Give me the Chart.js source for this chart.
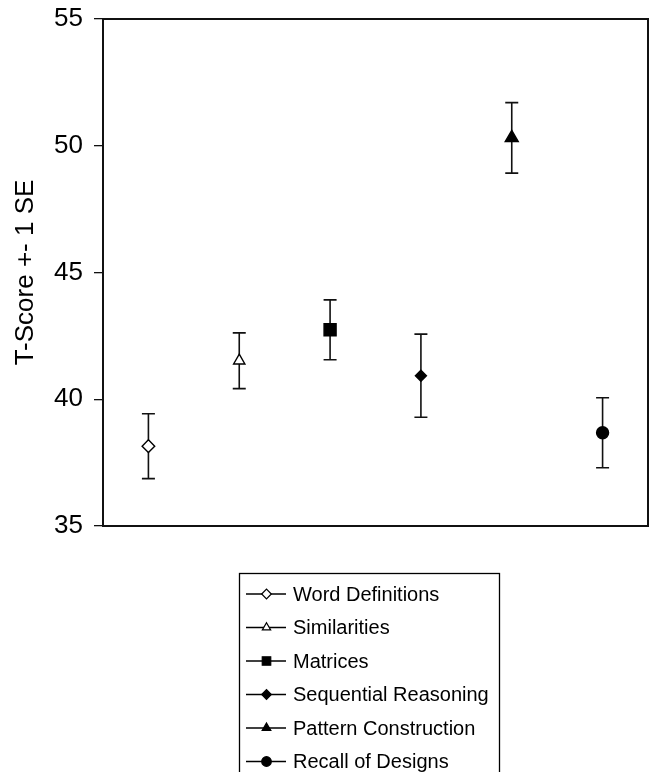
<!DOCTYPE html>
<html>
<head>
<meta charset="utf-8">
<style>
  html, body { margin: 0; padding: 0; background: #fff; }
  #wrap { width: 655px; height: 772px; }
</style>
<script src="https://cdn.jsdelivr.net/npm/chart.js@4/dist/chart.umd.min.js"></script>
</head>
<body>
<div id="wrap"><canvas id="chart" width="655" height="772"></canvas></div>
<script>
// Subtest means and standard errors
const subtests = ['Word Definitions', 'Similarities', 'Matrices', 'Sequential Reasoning', 'Pattern Construction', 'Recall of Designs'];
const means = [38.15, 41.52, 42.74, 40.93, 50.31, 38.68];
const stdErrors = [1.28, 1.10, 1.18, 1.64, 1.39, 1.38];
const yTicks = [35, 40, 45, 50, 55];

// Marker appearance per subtest
const markerStyle = ['rectRot', 'triangle', 'rect', 'rectRot', 'triangle', 'circle'];
const markerFill = ['#ffffff', '#ffffff', '#000000', '#000000', '#000000', '#000000'];
const markerRadius = [6.3, 6.5, 8.5, 5.5, 7.5, 6];
const legendRadius = [4.8, 4.8, 6, 4.8, 5, 4.8];

const FONT = '"Liberation Sans", Arial, sans-serif';

const datasets = subtests.map((name, k) => ({
  label: name,
  data: subtests.map((_, i) => (i === k ? means[k] : null)),
  showLine: false,
  pointStyle: markerStyle[k],
  pointRadius: markerRadius[k],
  pointHoverRadius: markerRadius[k],
  pointBackgroundColor: markerFill[k],
  pointBorderColor: '#000000',
  pointBorderWidth: 1.4,
  borderColor: '#000000',
  backgroundColor: markerFill[k]
}));

// Whiskers at mean +/- 1 SE, drawn beneath the markers
const errorBars = {
  id: 'errorBars',
  beforeDatasetsDraw(chart) {
    const { ctx, scales: { x, y } } = chart;
    ctx.save();
    ctx.strokeStyle = '#111111';
    ctx.lineWidth = 1.6;
    means.forEach((m, i) => {
      const px = x.getPixelForValue(i);
      const top = y.getPixelForValue(m + stdErrors[i]);
      const bot = y.getPixelForValue(m - stdErrors[i]);
      ctx.beginPath();
      ctx.moveTo(px, top); ctx.lineTo(px, bot);
      ctx.moveTo(px - 6.5, top); ctx.lineTo(px + 6.5, top);
      ctx.moveTo(px - 6.5, bot); ctx.lineTo(px + 6.5, bot);
      ctx.stroke();
    });
    ctx.restore();
  }
};

// Box around the plotting area
const frame = {
  id: 'frame',
  afterDatasetsDraw(chart) {
    const { ctx, chartArea: a } = chart;
    ctx.save();
    ctx.strokeStyle = '#111111';
    ctx.lineWidth = 2;
    ctx.strokeRect(a.left, a.top, a.right - a.left, a.bottom - a.top);
    ctx.restore();
  }
};

// Boxed legend below the plot: line sample with marker, then the name
const boxLegend = {
  id: 'boxLegend',
  afterDraw(chart) {
    const { ctx } = chart;
    ctx.save();
    ctx.strokeStyle = '#000000';
    ctx.lineWidth = 1.3;
    ctx.strokeRect(239.5, 573.5, 260, 230);
    ctx.font = '20px ' + FONT;
    ctx.textBaseline = 'middle';
    ctx.textAlign = 'left';
    subtests.forEach((name, k) => {
      const cy = 594 + k * 33.5;
      ctx.strokeStyle = '#000000';
      ctx.lineWidth = 1.5;
      ctx.beginPath();
      ctx.moveTo(246, cy); ctx.lineTo(286, cy);
      ctx.stroke();
      ctx.fillStyle = markerFill[k];
      ctx.lineWidth = 1.2;
      Chart.helpers.drawPoint(ctx, { pointStyle: markerStyle[k], radius: legendRadius[k], borderWidth: 1.2 }, 266.5, cy);
      ctx.fillStyle = '#000000';
      ctx.fillText(name, 293, cy + 1);
    });
    ctx.restore();
  }
};

new Chart(document.getElementById('chart'), {
  type: 'line',
  data: { labels: subtests, datasets },
  options: {
    responsive: false,
    animation: false,
    devicePixelRatio: 1,
    layout: { autoPadding: false, padding: { left: 0, top: 19, right: 7, bottom: 246 } },
    plugins: { legend: { display: false }, tooltip: { enabled: false } },
    scales: {
      x: { type: 'category', offset: true, display: false },
      y: {
        min: 35, max: 55,
        afterFit(s) { s.width = 103; s.paddingTop = 0; s.paddingBottom = 0; },
        afterBuildTicks(s) { s.ticks = yTicks.map(v => ({ value: v })); },
        border: { display: true, color: '#111111', width: 2 },
        grid: { display: true, drawOnChartArea: false, drawTicks: true, tickLength: 9, color: '#111111', lineWidth: 1.3 },
        ticks: { padding: 11, color: '#000000', font: { family: FONT, size: 26 } },
        title: {
          display: true, text: 'T-Score +- 1 SE', color: '#000000',
          font: { family: FONT, size: 26 }, padding: { top: 10, bottom: 0 }
        }
      }
    }
  },
  plugins: [errorBars, frame, boxLegend]
});
</script>
</body>
</html>
